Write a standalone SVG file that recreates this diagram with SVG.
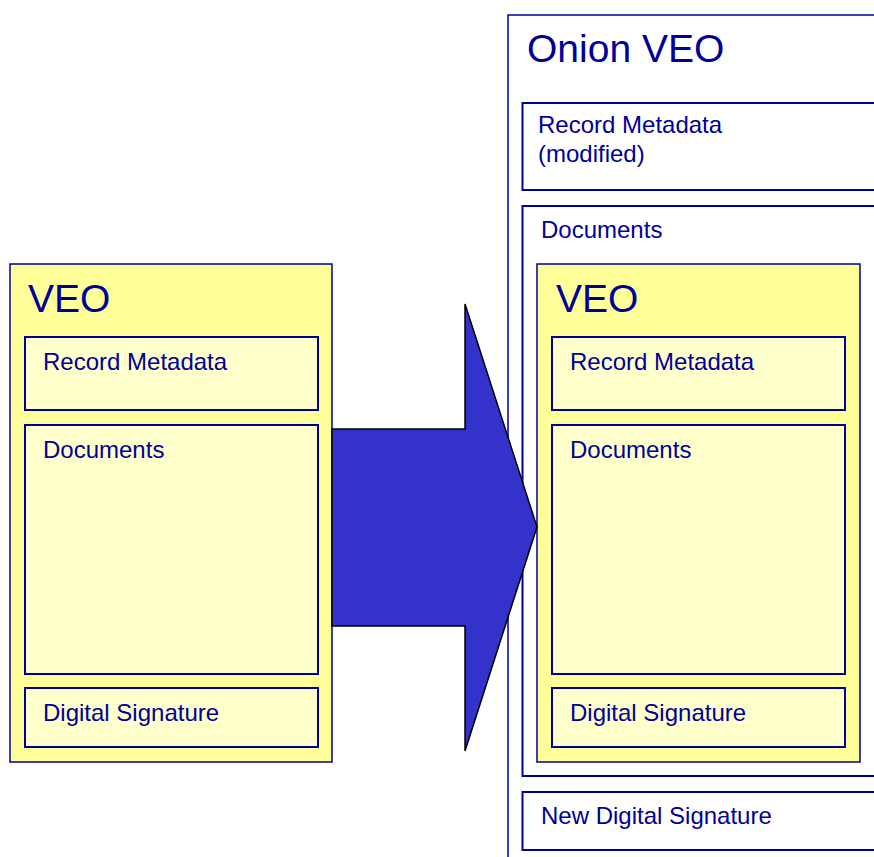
<svg xmlns="http://www.w3.org/2000/svg" width="874" height="857" viewBox="0 0 874 857">
<style>
.veo{fill:#FFFF99;stroke:#000099;stroke-width:1.5}
.inner{fill:#FFFFCC;stroke:#000099;stroke-width:2}
.white{fill:#FFFFFF;stroke:#000099;stroke-width:2}
.outer{fill:#FFFFFF;stroke:#000099;stroke-width:1.5}
text{font-family:"Liberation Sans",Arial,sans-serif;fill:#000099}
.big{font-size:39px}
.lbl{font-size:24px}
</style>
<rect width="874" height="857" fill="#FFFFFF"/>
<g id="left-veo">
<rect class="veo" x="10" y="264" width="322" height="498"/>
<text class="big" x="28" y="312">VEO</text>
</g>
<g id="left-record-metadata">
<rect class="inner" x="25" y="337" width="293" height="73"/>
<text class="lbl" x="43" y="370">Record Metadata</text>
</g>
<g id="left-documents">
<rect class="inner" x="25" y="425" width="293" height="249"/>
<text class="lbl" x="43" y="458">Documents</text>
</g>
<g id="left-digital-signature">
<rect class="inner" x="25" y="688" width="293" height="59"/>
<text class="lbl" x="43" y="721">Digital Signature</text>
</g>
<g id="onion-veo">
<rect class="outer" x="508" y="15" width="380" height="860"/>
<text class="big" x="527" y="62">Onion VEO</text>
</g>
<g id="onion-record-metadata">
<rect class="white" x="522.5" y="103" width="370" height="87"/>
<text class="lbl" x="538" y="133">Record Metadata</text>
<text class="lbl" x="538" y="162">(modified)</text>
</g>
<g id="onion-documents">
<rect class="white" x="522.5" y="206" width="370" height="570"/>
<text class="lbl" x="541" y="238">Documents</text>
</g>
<g id="inner-veo">
<rect class="veo" x="537" y="264" width="323" height="498"/>
<text class="big" x="556" y="312">VEO</text>
</g>
<g id="inner-record-metadata">
<rect class="inner" x="552" y="337" width="293" height="73"/>
<text class="lbl" x="570" y="370">Record Metadata</text>
</g>
<g id="inner-documents">
<rect class="inner" x="552" y="425" width="293" height="249"/>
<text class="lbl" x="570" y="458">Documents</text>
</g>
<g id="inner-digital-signature">
<rect class="inner" x="552" y="688" width="293" height="59"/>
<text class="lbl" x="570" y="721">Digital Signature</text>
</g>
<g id="new-digital-signature">
<rect class="white" x="522.5" y="792" width="370" height="58"/>
<text class="lbl" x="541" y="824">New Digital Signature</text>
</g>
<g id="connectors">
<polygon points="332,429 465,429 465,304 537,527 465,751 465,626 332,626" fill="#3333CC" stroke="#000000" stroke-width="1.5"/>
</g>
</svg>
